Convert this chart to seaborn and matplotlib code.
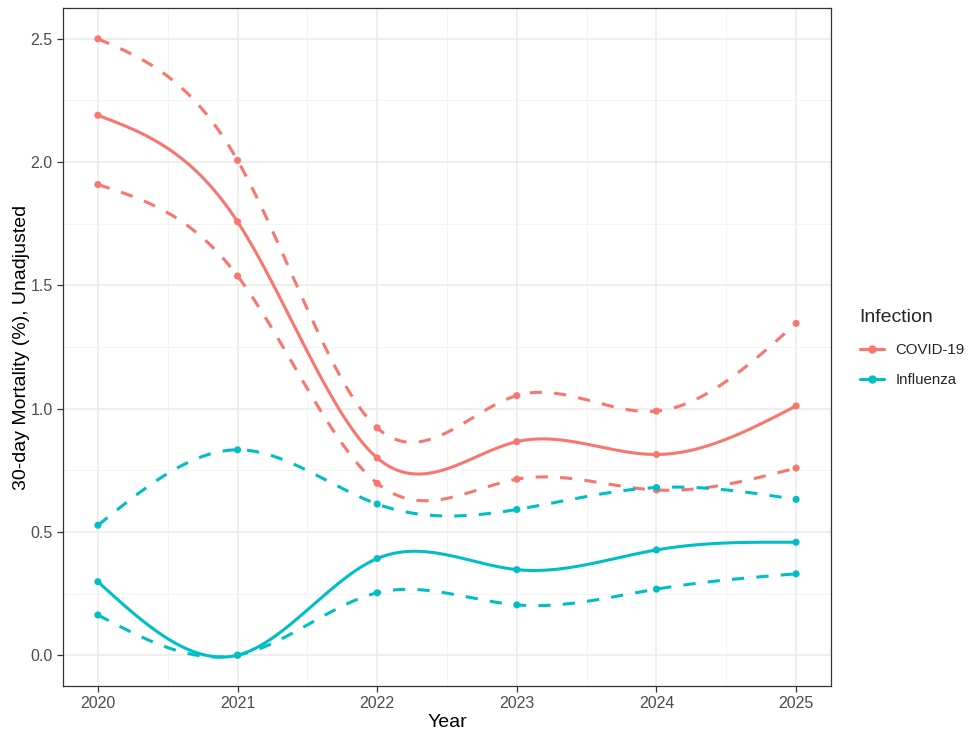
import numpy as np
import pandas as pd
import matplotlib
matplotlib.use("Agg")
import matplotlib.pyplot as plt
import seaborn as sns
from matplotlib.lines import Line2D

years = [2020, 2021, 2022, 2023, 2024, 2025]
covid_est = [2.19, 1.758, 0.80, 0.866, 0.814, 1.011]
covid_upper = [2.50, 2.007, 0.922, 1.053, 0.990, 1.346]
covid_lower = [1.909, 1.538, 0.697, 0.714, 0.670, 0.759]
flu_est = [0.298, 0.0, 0.392, 0.347, 0.427, 0.458]
flu_upper = [0.527, 0.833, 0.613, 0.591, 0.680, 0.632]
flu_lower = [0.163, 0.0, 0.253, 0.204, 0.268, 0.330]
infections = ["COVID-19", "Influenza"]
colors = {"COVID-19": "#F8766D", "Influenza": "#00BFC4"}

sns.set_theme(style="white")
plt.rcParams['font.family'] = ['Liberation Sans', 'DejaVu Sans']


def natural_spline(x, y, n=300):
    x = np.asarray(x, float)
    y = np.asarray(y, float)
    k = len(x)
    h = np.diff(x)
    A = np.zeros((k, k))
    b = np.zeros(k)
    A[0, 0] = 1
    A[-1, -1] = 1
    for i in range(1, k - 1):
        A[i, i - 1] = h[i - 1]
        A[i, i] = 2 * (h[i - 1] + h[i])
        A[i, i + 1] = h[i]
        b[i] = 6 * ((y[i + 1] - y[i]) / h[i] - (y[i] - y[i - 1]) / h[i - 1])
    M = np.linalg.solve(A, b)
    xs = np.linspace(x[0], x[-1], n)
    idx = np.clip(np.searchsorted(x, xs) - 1, 0, k - 2)
    x0, x1 = x[idx], x[idx + 1]
    hh = x1 - x0
    ys = (M[idx] * (x1 - xs) ** 3 / (6 * hh) + M[idx + 1] * (xs - x0) ** 3 / (6 * hh)
          + (y[idx] / hh - M[idx] * hh / 6) * (x1 - xs)
          + (y[idx + 1] / hh - M[idx + 1] * hh / 6) * (xs - x0))
    return xs, ys


series = [
    ("COVID-19", "est", covid_est),
    ("COVID-19", "upper", covid_upper),
    ("COVID-19", "lower", covid_lower),
    ("Influenza", "est", flu_est),
    ("Influenza", "upper", flu_upper),
    ("Influenza", "lower", flu_lower),
]

fig = plt.figure(figsize=(9.69, 7.30), dpi=100)
ax = fig.add_axes([63 / 969, 1 - 686 / 730, (831 - 63) / 969, (686 - 8) / 730])

lw = 2.2
for inf, kind, vals in series:
    xs, ys = natural_spline(years, vals)
    dfl = pd.DataFrame({"x": xs, "y": ys})
    ls = "-" if kind == "est" else (0, (4, 4))
    sns.lineplot(data=dfl, x="x", y="y", ax=ax, color=colors[inf], lw=lw,
                 linestyle=ls, legend=False, zorder=3)
    dfp = pd.DataFrame({"x": years, "y": vals})
    sns.scatterplot(data=dfp, x="x", y="y", ax=ax, color=colors[inf], s=26,
                    edgecolor="none", legend=False, zorder=4)

ax.set_xlim(2019.75, 2025.25)
ax.set_ylim(-0.125, 2.625)
ax.set_xticks(years)
ax.set_xticklabels([str(y) for y in years])
ax.set_yticks([0.0, 0.5, 1.0, 1.5, 2.0, 2.5])
ax.set_yticklabels(["0.0", "0.5", "1.0", "1.5", "2.0", "2.5"])
ax.set_xticks(np.arange(2020.5, 2025, 1.0), minor=True)
ax.set_yticks([0.25, 0.75, 1.25, 1.75, 2.25], minor=True)
ax.grid(True, which="major", color="#EBEBEB", lw=1.1, zorder=0)
ax.grid(True, which="minor", color="#F2F2F2", lw=0.6, zorder=0)
ax.set_axisbelow(True)
for s in ax.spines.values():
    s.set_color("#333333")
    s.set_linewidth(0.9)
ax.tick_params(axis="both", which="major", length=4, width=0.9, color="#333333",
               labelsize=11.5, labelcolor="#4D4D4D", direction="out", pad=3.5,
               bottom=True, left=True)
ax.tick_params(axis="both", which="minor", length=0)
ax.set_xlabel("Year", fontsize=14, color="black", labelpad=2)
ax.set_ylabel("30-day Mortality (%), Unadjusted", fontsize=14, color="black")
ax.yaxis.set_label_coords(-0.043, 0.5)

handles = [Line2D([0], [0], color=colors[i], lw=lw, marker="o", markersize=5)
           for i in infections]
leg = fig.legend(handles, infections, title="Infection", loc="upper left",
                 bbox_to_anchor=(846 / 969, 1 - 296 / 730), frameon=False,
                 fontsize=10.8, title_fontsize=14, handlelength=1.6,
                 labelspacing=1.1, handletextpad=0.8)
leg._legend_box.align = "left"

fig.savefig("out.png", dpi=100)
